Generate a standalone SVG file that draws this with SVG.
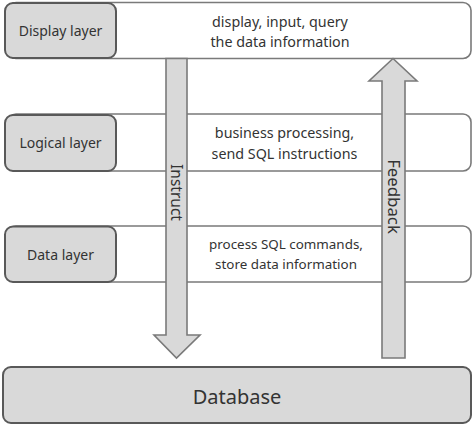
<svg xmlns="http://www.w3.org/2000/svg" width="474" height="426" viewBox="0 0 474 426">
<style>
.row{fill:#fff;stroke:#7a7a7a;stroke-width:1.6}
.lbl{fill:#d9d9d9;stroke:#595959;stroke-width:2}
.arr{fill:#d9d9d9;stroke:#7a7a7a;stroke-width:1.6}
text{font-family:"Noto Sans","Open Sans",sans-serif;fill:#333}
.t{font-size:14px;text-anchor:middle}
.d{font-size:14.3px;text-anchor:middle}
.d3{font-size:13.4px;text-anchor:middle}
</style>
<rect width="474" height="426" fill="#fff"/>
<g id="display">
<rect class="row" x="8" y="2.5" width="463" height="56" rx="8"/>
<rect class="lbl" x="5" y="3" width="111" height="55" rx="8"/>
<text class="t" x="60.5" y="36">Display layer</text>
<text class="d" x="280" y="27">display, input, query</text>
<text class="d" x="280" y="47">the data information</text>
</g>
<g id="logical">
<rect class="row" x="8" y="114" width="463" height="57" rx="8"/>
<rect class="lbl" x="5" y="115" width="111" height="56" rx="8"/>
<text class="t" x="60.5" y="148">Logical layer</text>
<text class="d" x="284.5" y="138">business processing,</text>
<text class="d" x="284.5" y="159">send SQL instructions</text>
</g>
<g id="data">
<rect class="row" x="8" y="226" width="463" height="56" rx="8"/>
<rect class="lbl" x="5" y="226.5" width="111" height="55.5" rx="8"/>
<text class="t" x="60.5" y="260">Data layer</text>
<text class="d3" x="286" y="249">process SQL commands,</text>
<text class="d3" x="286" y="269">store data information</text>
</g>
<g id="database">
<rect class="lbl" x="3" y="367" width="468" height="56" rx="8"/>
<text x="237" y="404" style="font-size:20px;text-anchor:middle">Database</text>
</g>
<g id="connectors">
<polygon class="arr" points="166,58.5 187,58.5 187,335 200,335 176.5,358 154,335 166,335"/>
<text transform="translate(171,192.5) rotate(90)" style="font-size:15.5px;text-anchor:middle">Instruct</text>
<polygon class="arr" points="382,358 405,358 405,81 417,81 393,58.5 369,81 382,81"/>
<text transform="translate(388,196.5) rotate(90)" style="font-size:16.8px;text-anchor:middle">Feedback</text>
</g>
</svg>
